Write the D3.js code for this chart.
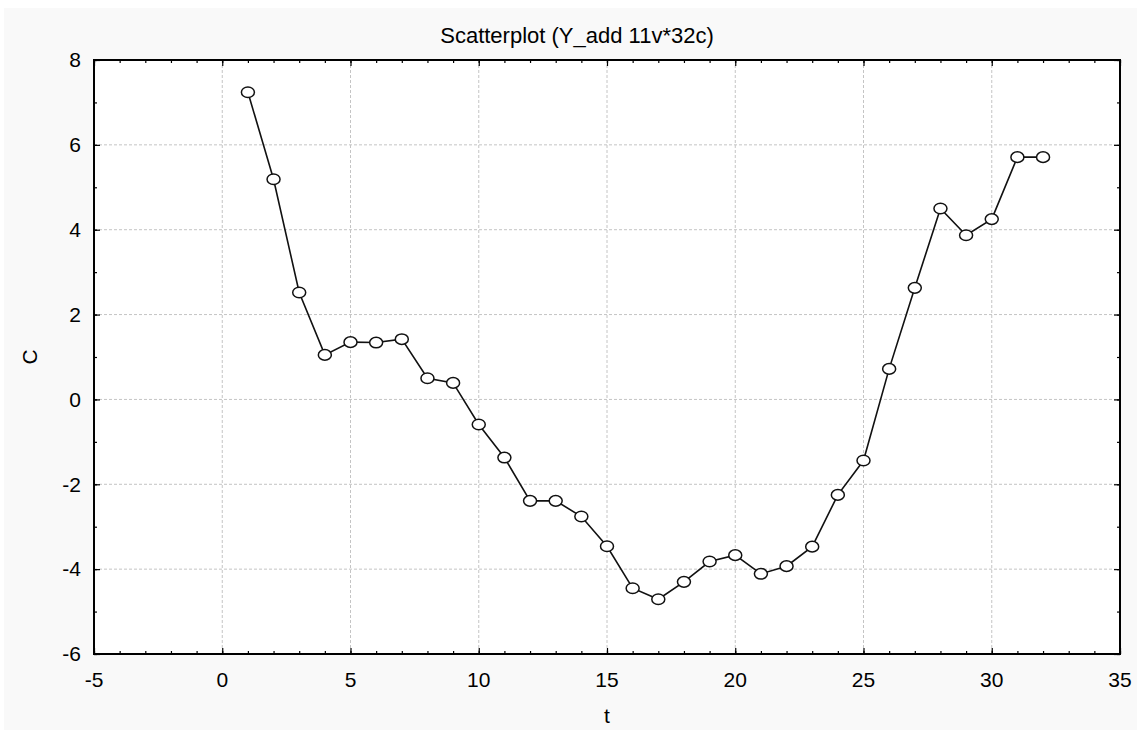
<!DOCTYPE html>
<html>
<head>
<meta charset="utf-8">
<script src="https://cdn.jsdelivr.net/npm/d3@7"></script>
<style>
  body { margin: 0; background: #ffffff; }
  text { font-family: "Liberation Sans", Arial, sans-serif; fill: #000; }
</style>
</head>
<body>
<div id="main"></div>
<script>
// data
var tValues = [1, 2, 3, 4, 5, 6, 7, 8, 9, 10, 11, 12, 13, 14, 15, 16,
               17, 18, 19, 20, 21, 22, 23, 24, 25, 26, 27, 28, 29, 30, 31, 32];
var cValues = [7.24, 5.19, 2.52, 1.05, 1.35, 1.34, 1.42, 0.50, 0.39, -0.59, -1.37, -2.39,
               -2.39, -2.76, -3.46, -4.45, -4.71, -4.30, -3.82, -3.67, -4.11, -3.93,
               -3.47, -2.25, -1.44, 0.72, 2.63, 4.50, 3.87, 4.25, 5.71, 5.71];
var xTicks = [-5, 0, 5, 10, 15, 20, 25, 30, 35];
var yTicks = [-6, -4, -2, 0, 2, 4, 6, 8];
var titleText = "Scatterplot (Y_add 11v*32c)";

// size and margins
var W = 1137, H = 731;
var margin = {top: 60, right: 17, bottom: 77, left: 94},
    width = W - margin.left - margin.right,
    height = H - margin.top - margin.bottom;

var svg = d3.select("#main").append("svg")
    .attr("width", W)
    .attr("height", H);

// light gray panel behind everything
svg.append("rect")
    .attr("x", 4).attr("y", 8)
    .attr("width", W - 4).attr("height", H - 9)
    .attr("fill", "#f9f9f9");

var g = svg.append("g")
    .attr("transform", "translate(" + margin.left + "," + margin.top + ")");

// scales
var x = d3.scaleLinear().domain([-5, 35]).range([0, width]);
var y = d3.scaleLinear().domain([-6, 8]).range([height, 0]);

// white plot area
g.append("rect")
    .attr("width", width)
    .attr("height", height)
    .attr("fill", "#fff");

// grid lines
g.append("g").selectAll("line")
    .data(xTicks.slice(1, -1))
    .enter().append("line")
    .attr("x1", function(d) { return x(d); })
    .attr("x2", function(d) { return x(d); })
    .attr("y1", 0).attr("y2", height)
    .attr("stroke", "#c4c4c4")
    .attr("stroke-dasharray", "3,2");

g.append("g").selectAll("line")
    .data(yTicks.slice(1, -1))
    .enter().append("line")
    .attr("y1", function(d) { return y(d); })
    .attr("y2", function(d) { return y(d); })
    .attr("x1", 0).attr("x2", width)
    .attr("stroke", "#c4c4c4")
    .attr("stroke-dasharray", "3,2");

// inward ticks on all four sides
var xMinor = d3.range(-5, 36, 1);
var yMinor = d3.range(-6, 9, 1);

function addAxis(axis, ticks, size, transform) {
    g.append("g")
        .attr("transform", transform)
        .call(axis.tickValues(ticks).tickSize(size).tickFormat(""))
        .call(function(s) {
            s.select(".domain").remove();
            s.selectAll(".tick line").attr("stroke", "#000").attr("stroke-width", 1.2);
        });
}
addAxis(d3.axisTop(x), xMinor, 3, "translate(0," + height + ")");
addAxis(d3.axisTop(x), xTicks, 6, "translate(0," + height + ")");
addAxis(d3.axisBottom(x), xMinor, 3, "translate(0,0)");
addAxis(d3.axisBottom(x), xTicks, 6, "translate(0,0)");
addAxis(d3.axisRight(y), yMinor, 3, "translate(0,0)");
addAxis(d3.axisRight(y), yTicks, 6, "translate(0,0)");
addAxis(d3.axisLeft(y), yMinor, 3, "translate(" + width + ",0)");
addAxis(d3.axisLeft(y), yTicks, 6, "translate(" + width + ",0)");

// frame
g.append("rect")
    .attr("width", width)
    .attr("height", height)
    .attr("fill", "none")
    .attr("stroke", "#000")
    .attr("stroke-width", 2);

// tick labels
g.append("g").selectAll("text")
    .data(xTicks)
    .enter().append("text")
    .attr("x", function(d) { return x(d); })
    .attr("y", height + 33)
    .attr("text-anchor", "middle")
    .style("font-size", "21px")
    .text(function(d) { return d; });

g.append("g").selectAll("text")
    .data(yTicks)
    .enter().append("text")
    .attr("x", -13)
    .attr("y", function(d) { return y(d); })
    .attr("dy", "0.35em")
    .attr("text-anchor", "end")
    .style("font-size", "21px")
    .text(function(d) { return d; });

// axis titles and chart title
svg.append("text")
    .attr("x", margin.left + width / 2)
    .attr("y", 723)
    .attr("text-anchor", "middle")
    .style("font-size", "21px")
    .text("t");

svg.append("text")
    .attr("transform", "translate(37," + (margin.top + height / 2) + ") rotate(-90)")
    .attr("text-anchor", "middle")
    .style("font-size", "21px")
    .text("C");

svg.append("text")
    .attr("x", 577)
    .attr("y", 43)
    .attr("text-anchor", "middle")
    .style("font-size", "22px")
    .text(titleText);

// the line through the points
var line = d3.line()
    .x(function(d, i) { return x(tValues[i]); })
    .y(function(d) { return y(d); });

g.append("path")
    .datum(cValues)
    .attr("d", line)
    .attr("fill", "none")
    .attr("stroke", "#111")
    .attr("stroke-width", 1.6);

// markers
g.append("g").selectAll("ellipse")
    .data(cValues)
    .enter().append("ellipse")
    .attr("cx", function(d, i) { return x(tValues[i]); })
    .attr("cy", function(d) { return y(d); })
    .attr("rx", 6.5)
    .attr("ry", 5.3)
    .attr("fill", "#fff")
    .attr("stroke", "#111")
    .attr("stroke-width", 1.5);
</script>
</body>
</html>
